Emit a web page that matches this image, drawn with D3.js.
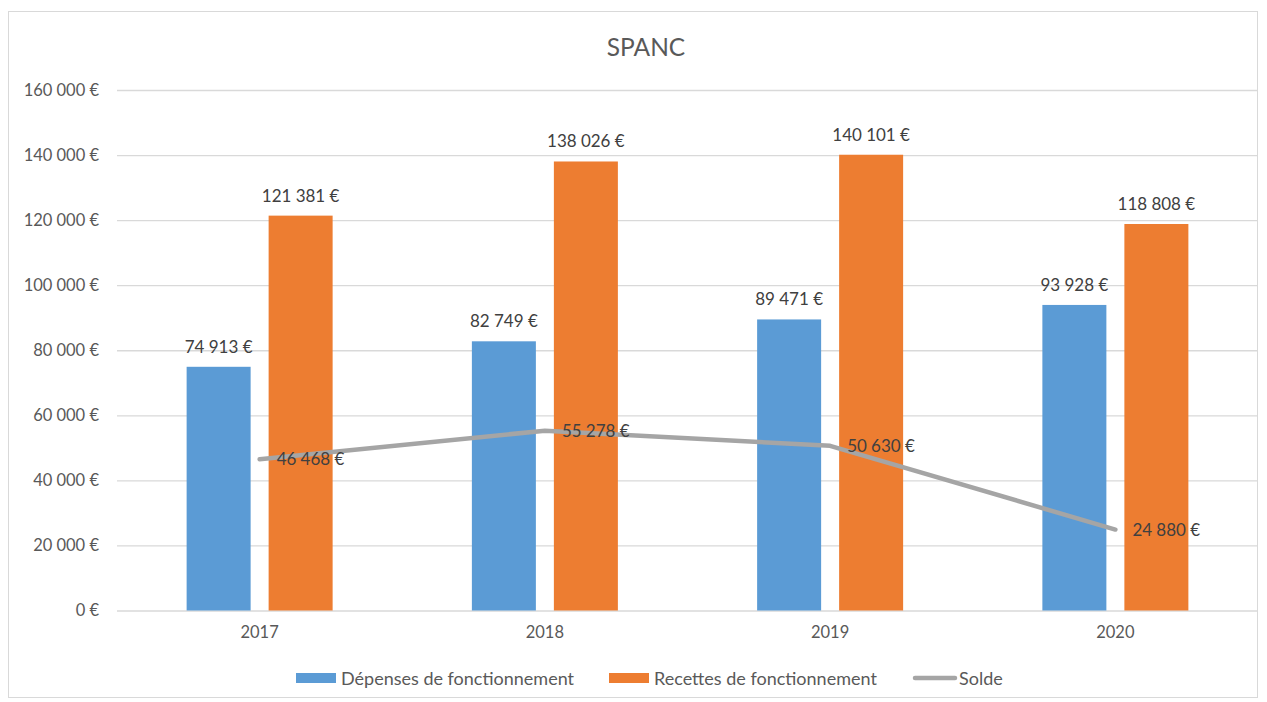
<!DOCTYPE html>
<html>
<head>
<meta charset="utf-8">
<script src="https://cdn.jsdelivr.net/npm/d3@7"></script>
<style>
  html, body { margin: 0; padding: 0; background: #fff; }
  svg { display: block; font-family: Lato, "Open Sans", sans-serif; }
</style>
</head>
<body>
<svg id="chart" width="1267" height="702"></svg>
<script>
// SPANC — dépenses, recettes et solde de fonctionnement
const years = ["2017", "2018", "2019", "2020"];
const depenses = [74913, 82749, 89471, 93928];
const recettes = [121381, 138026, 140101, 118808];
const solde = [46468, 55278, 50630, 24880];
const yTicks = [0, 20000, 40000, 60000, 80000, 100000, 120000, 140000, 160000];
const seriesNames = ["Dépenses de fonctionnement", "Recettes de fonctionnement", "Solde"];
const colors = ["#5B9BD5", "#ED7D31", "#A5A5A5"];

const locale = d3.formatLocale({ decimal: ",", thousands: "\u202F", grouping: [3], currency: ["", " €"] });
const fmt = v => locale.format(",.0f")(v) + " €";

const svg = d3.select("#chart");
const W = 1267, H = 702;
const m = { left: 117, right: 9, top: 90, bottom: 91.5 };

// outer frame
svg.append("rect").attr("x", 8.5).attr("y", 11.5).attr("width", 1249).attr("height", 686)
  .attr("fill", "#fff").attr("stroke", "#D9D9D9").attr("stroke-width", 1);

const x = d3.scaleBand().domain(years).range([m.left, W - m.right]);
const y = d3.scaleLinear().domain([0, 160000]).range([H - m.bottom, m.top]);

// gridlines + y labels
const yAxis = d3.axisLeft(y).tickValues(yTicks).tickSize(-(W - m.right - m.left)).tickFormat(fmt).tickPadding(18);
const gy = svg.append("g").attr("transform", `translate(${m.left},0)`).call(yAxis);
gy.select(".domain").remove();
gy.selectAll(".tick line").attr("stroke", "#D9D9D9").attr("stroke-width", 1.3);
gy.selectAll(".tick text").attr("fill", "#595959").attr("font-size", 16.5).attr("font-family", "Lato, sans-serif");

// x labels
const xAxis = d3.axisBottom(x).tickSize(0).tickPadding(16);
const gx = svg.append("g").attr("transform", `translate(0,${H - m.bottom})`).call(xAxis);
gx.select(".domain").remove();
gx.selectAll(".tick text").attr("fill", "#595959").attr("font-size", 16.5).attr("font-family", "Lato, sans-serif");

// bars
const barW = 64, gap = 18;
const inner = d3.scaleOrdinal().domain([0, 1]).range([-(barW + gap / 2), gap / 2]);
[depenses, recettes].forEach((vals, si) => {
  const g = svg.append("g");
  g.selectAll("rect").data(vals).join("rect")
    .attr("x", (d, i) => x(years[i]) + x.bandwidth() / 2 + inner(si))
    .attr("y", d => y(d))
    .attr("width", barW)
    .attr("height", d => y(0) - y(d))
    .attr("fill", colors[si]);
  g.selectAll("text").data(vals).join("text")
    .attr("x", (d, i) => x(years[i]) + x.bandwidth() / 2 + inner(si) + barW / 2)
    .attr("y", d => y(d) - 14)
    .attr("text-anchor", "middle")
    .attr("font-size", 17)
    .attr("fill", "#404040")
    .text(fmt);
});

// solde line
const cx = (d, i) => x(years[i]) + x.bandwidth() / 2;
const line = d3.line().x(cx).y(d => y(d));
svg.append("path").datum(solde).attr("d", line)
  .attr("fill", "none").attr("stroke", colors[2]).attr("stroke-width", 4.5)
  .attr("stroke-linecap", "round").attr("stroke-linejoin", "round");
svg.append("g").selectAll("text").data(solde).join("text")
  .attr("x", (d, i) => cx(d, i) + 17)
  .attr("y", d => y(d) + 6)
  .attr("font-size", 17)
  .attr("fill", "#404040")
  .text(fmt);

// title
svg.append("text").attr("x", 646).attr("y", 56).attr("text-anchor", "middle")
  .attr("font-size", 24.5).attr("fill", "#595959").text("SPANC");

// legend
const legendX = [296, 609, 913];
const lg = svg.append("g");
seriesNames.forEach((name, i) => {
  const g = lg.append("g").attr("transform", `translate(${legendX[i]},678)`);
  if (i < 2) {
    g.append("rect").attr("x", 0).attr("y", -5).attr("width", 40).attr("height", 10).attr("fill", colors[i]);
  } else {
    g.append("line").attr("x1", 2).attr("x2", 42).attr("y1", 0).attr("y2", 0)
      .attr("stroke", colors[i]).attr("stroke-width", 4.5).attr("stroke-linecap", "round");
  }
  g.append("text").attr("x", i < 2 ? 45 : 46).attr("y", 6.5).attr("font-size", 18)
    .attr("fill", "#595959").text(name);
});
</script>
</body>
</html>
